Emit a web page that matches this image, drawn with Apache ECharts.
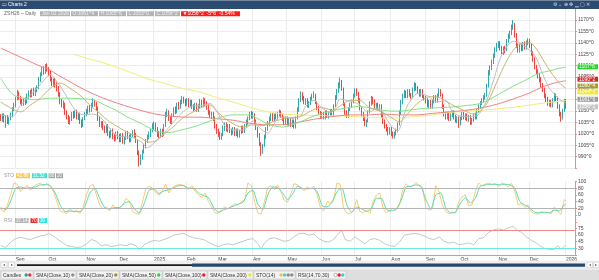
<!DOCTYPE html>
<html><head><meta charset="utf-8">
<script src="https://cdn.jsdelivr.net/npm/echarts@6/dist/echarts.min.js"></script>
<style>html,body{margin:0;padding:0;background:#fff;overflow:hidden}#c{width:599px;height:280px;}</style>
</head><body><div id="c"></div>
<script>
// ---- categories: trading days grouped by month ----
const monthLabels = ['', 'Sep','Oct','Nov','Dec','2025','Feb','Mar','Apr','May','Jun','Jul','Aug','Sep','Oct','Nov','Dec','2026'];
const monthDays   = [9, 20, 23, 20, 21, 20, 19, 21, 21, 21, 20, 22, 21, 21, 23, 19, 22, 1];
const padDays = 5;

// ---- daily candles [open, close, low, high] ----
const candles = [
[1043,1040,1037,1046],[1039,1044,1036,1047],[1045,1038,1035,1047],[1037,1042,1028,1044],[1043,1036,1033,1045],[1035,1040,1032,1042],[1041,1045,1038,1048],[1044,1052,1042,1055],[1053,1058,1050,1061],
[1057,1066,1055,1069],[1067,1074,1064,1078],[1073,1068,1065,1076],[1067,1062,1059,1070],[1063,1060,1057,1066],[1059,1064,1057,1067],[1065,1061,1058,1068],[1062,1070,1060,1073],[1069,1074,1066,1077],[1075,1071,1068,1078],[1070,1077,1068,1080],[1078,1073,1070,1081],[1072,1078,1070,1081],[1079,1080,1075,1084],[1081,1092,1079,1095],[1091,1098,1088,1101],[1099,1104,1096,1108],[1105,1102,1098,1109],[1101,1108,1099,1112],[1109,1106,1102,1113],
[1105,1100,1096,1108],[1101,1092,1089,1103],[1093,1086,1083,1095],[1085,1090,1082,1093],[1091,1084,1081,1094],[1085,1080,1076,1088],[1081,1072,1069,1083],[1073,1062,1059,1075],[1063,1058,1055,1066],[1057,1060,1053,1064],[1059,1048,1045,1061],[1049,1042,1039,1051],[1043,1036,1033,1045],[1035,1040,1032,1043],[1039,1046,1037,1049],[1047,1044,1040,1050],[1043,1048,1041,1051],[1049,1042,1039,1052],[1041,1045,1038,1048],[1046,1036,1033,1048],[1037,1032,1028,1039],[1031,1040,1029,1042],[1041,1046,1038,1049],
[1047,1050,1043,1053],[1049,1054,1046,1057],[1055,1052,1048,1058],[1051,1058,1049,1061],[1059,1062,1055,1067],[1063,1060,1056,1065],[1059,1055,1051,1062],[1054,1040,1037,1056],[1041,1032,1029,1043],[1031,1034,1028,1037],[1035,1028,1025,1037],[1029,1024,1021,1031],[1023,1030,1021,1033],[1031,1020,1017,1033],[1021,1018,1014,1024],[1017,1024,1015,1027],[1025,1016,1013,1027],[1017,1014,1010,1020],[1013,1020,1011,1023],[1021,1016,1013,1024],
[1017,1012,1009,1020],[1011,1018,1009,1021],[1019,1010,1007,1021],[1009,1014,1006,1017],[1015,1020,1012,1023],[1021,1016,1013,1024],[1017,1012,1009,1019],[1011,1018,1009,1021],[1019,1022,1016,1025],[1023,1018,1015,1026],[1019,1012,1008,1021],[1011,995,992,1013],[996,982,977,998],[981,990,979,993],[989,996,986,999],[997,1004,994,1007],[1003,1010,1001,1013],[1011,1016,1008,1019],[1017,1020,1013,1023],[1019,1024,1016,1027],[1025,1030,1022,1034],
[1029,1032,1025,1036],[1033,1026,1023,1035],[1027,1020,1016,1029],[1021,1018,1014,1024],[1017,1024,1015,1027],[1025,1020,1016,1027],[1019,1030,1017,1033],[1031,1046,1029,1049],[1045,1050,1042,1053],[1049,1040,1037,1051],[1041,1036,1033,1043],[1035,1044,1033,1047],[1045,1052,1042,1055],[1053,1050,1046,1056],[1049,1058,1047,1061],[1059,1056,1052,1062],[1055,1062,1053,1065],[1063,1066,1059,1070],[1067,1064,1060,1069],[1063,1060,1056,1066],
[1059,1064,1057,1067],[1065,1058,1055,1067],[1057,1062,1055,1065],[1063,1056,1053,1065],[1057,1054,1050,1059],[1053,1058,1051,1061],[1059,1052,1049,1061],[1051,1056,1049,1059],[1057,1062,1054,1066],[1063,1058,1055,1065],[1057,1064,1055,1068],[1065,1060,1057,1067],[1061,1056,1052,1063],[1057,1048,1045,1059],[1049,1044,1041,1051],[1043,1046,1040,1049],[1047,1040,1037,1049],[1041,1030,1027,1043],[1031,1024,1020,1033],
[1025,1020,1016,1027],[1021,1016,1012,1023],[1015,1018,1012,1021],[1019,1028,1017,1031],[1027,1032,1024,1035],[1033,1026,1023,1035],[1025,1030,1022,1033],[1031,1024,1021,1033],[1025,1022,1018,1027],[1021,1026,1019,1029],[1027,1020,1017,1029],[1019,1024,1017,1027],[1025,1018,1015,1027],[1017,1022,1015,1025],[1023,1028,1020,1031],[1029,1024,1021,1031],[1023,1030,1021,1033],[1031,1036,1028,1039],[1035,1040,1032,1043],[1041,1046,1038,1049],[1047,1044,1040,1050],
[1043,1046,1040,1049],[1045,1036,1033,1047],[1037,1028,1025,1039],[1027,1018,1015,1029],[1019,1008,1004,1021],[1007,996,991,1009],[997,1004,994,1007],[1005,1016,1003,1019],[1015,1026,1013,1029],[1027,1034,1024,1037],[1033,1040,1030,1043],[1041,1044,1037,1047],[1045,1040,1037,1048],[1039,1044,1037,1047],[1045,1042,1039,1048],[1041,1046,1039,1049],[1047,1048,1043,1052],[1049,1044,1041,1051],[1043,1040,1037,1046],[1041,1036,1032,1043],[1035,1040,1032,1043],
[1041,1034,1031,1043],[1033,1038,1030,1041],[1039,1032,1029,1041],[1031,1036,1029,1039],[1037,1030,1027,1039],[1029,1040,1027,1043],[1041,1052,1039,1055],[1051,1064,1049,1067],[1065,1072,1062,1076],[1071,1068,1064,1075],[1067,1062,1059,1070],[1061,1064,1058,1067],[1065,1058,1055,1067],[1057,1060,1054,1063],[1061,1066,1058,1069],[1067,1070,1064,1073],[1071,1072,1067,1076],[1071,1062,1059,1073],[1061,1054,1051,1063],[1055,1048,1045,1057],[1047,1044,1040,1050],
[1043,1046,1040,1049],[1047,1042,1039,1049],[1041,1048,1039,1051],[1049,1044,1041,1051],[1043,1046,1040,1049],[1047,1050,1044,1053],[1051,1046,1043,1053],[1045,1056,1043,1059],[1057,1068,1055,1071],[1067,1076,1065,1079],[1077,1084,1074,1088],[1083,1088,1080,1094],[1089,1080,1077,1091],[1079,1060,1057,1081],[1059,1048,1045,1061],[1049,1044,1041,1051],[1043,1052,1041,1055],[1053,1058,1050,1061],[1057,1062,1054,1065],[1063,1070,1060,1073],
[1071,1076,1068,1080],[1077,1074,1070,1080],[1073,1064,1061,1075],[1065,1054,1051,1067],[1053,1046,1043,1055],[1047,1040,1037,1049],[1041,1034,1030,1043],[1033,1036,1029,1039],[1037,1048,1035,1051],[1049,1060,1047,1063],[1059,1066,1057,1070],[1067,1062,1059,1069],[1063,1056,1053,1065],[1055,1058,1052,1061],[1059,1054,1051,1061],[1053,1056,1050,1059],[1057,1044,1041,1059],[1045,1036,1033,1047],[1037,1030,1027,1039],[1031,1026,1023,1033],[1027,1022,1018,1029],[1021,1026,1019,1029],
[1027,1020,1017,1029],[1021,1018,1014,1023],[1017,1020,1014,1023],[1021,1024,1018,1027],[1025,1032,1022,1035],[1033,1048,1031,1051],[1047,1062,1045,1065],[1061,1070,1059,1073],[1071,1074,1067,1078],[1075,1070,1067,1077],[1069,1076,1067,1079],[1077,1072,1069,1079],[1071,1070,1066,1074],[1069,1078,1067,1081],[1079,1084,1076,1088],[1085,1080,1077,1087],[1081,1076,1073,1083],[1077,1072,1069,1079],[1071,1076,1069,1079],[1077,1070,1067,1079],[1069,1068,1064,1072],
[1067,1064,1060,1070],[1065,1058,1055,1067],[1057,1062,1054,1065],[1063,1056,1053,1065],[1055,1062,1053,1065],[1063,1068,1060,1071],[1069,1064,1061,1071],[1063,1070,1061,1073],[1071,1076,1068,1080],[1077,1072,1069,1079],[1071,1056,1053,1073],[1057,1046,1043,1059],[1047,1042,1039,1049],[1041,1046,1039,1049],[1047,1040,1037,1049],[1039,1044,1037,1047],[1045,1048,1042,1051],[1049,1042,1039,1051],[1043,1038,1035,1045],[1037,1040,1034,1043],[1041,1034,1028,1043],
[1033,1040,1031,1043],[1041,1046,1038,1049],[1047,1042,1039,1049],[1041,1044,1038,1047],[1045,1040,1037,1047],[1039,1042,1036,1045],[1043,1036,1032,1045],[1035,1038,1032,1041],[1039,1044,1036,1047],[1045,1042,1039,1048],[1041,1050,1039,1053],[1051,1056,1048,1059],[1055,1060,1053,1063],[1061,1064,1058,1067],[1065,1068,1062,1071],[1069,1070,1065,1074],[1071,1082,1069,1086],[1083,1100,1081,1104],[1101,1106,1097,1110],[1107,1114,1104,1118],[1115,1122,1112,1126],[1123,1130,1120,1134],[1131,1136,1128,1140],
[1137,1138,1133,1142],[1139,1134,1130,1142],[1133,1128,1125,1136],[1127,1132,1124,1135],[1133,1130,1126,1136],[1131,1142,1129,1145],[1143,1148,1140,1152],[1149,1152,1145,1156],[1153,1160,1150,1164],[1161,1164,1157,1170],[1163,1150,1147,1166],[1151,1136,1133,1153],[1137,1130,1127,1139],[1129,1136,1127,1139],[1137,1132,1129,1140],[1131,1138,1129,1141],[1139,1134,1131,1142],[1133,1140,1131,1143],[1141,1142,1137,1146],
[1143,1136,1133,1145],[1137,1126,1123,1139],[1127,1118,1115,1129],[1119,1108,1105,1121],[1109,1102,1099,1111],[1103,1096,1093,1105],[1097,1092,1088,1100],[1093,1084,1081,1095],[1085,1078,1075,1087],[1079,1070,1067,1081],[1071,1066,1062,1073],[1067,1060,1057,1069],[1059,1062,1056,1065],[1063,1058,1055,1065],[1057,1064,1055,1067],[1065,1070,1062,1074],[1071,1066,1063,1073],[1067,1056,1053,1069],[1057,1046,1043,1059],[1047,1042,1036,1049],[1041,1050,1039,1053],[1051,1062,1049,1066],
[1061.5,1056.25,1053,1065.75]
];

// ---- moving averages: [dayIndex, value] ----
const sma10 = [[0,1045],[7,1043],[12,1058],[18,1071],[24,1085],[30,1098],[35,1086],[40,1069],[45,1052],[50,1045],[55,1046],[60,1043],[65,1030],[70,1018],[75,1016],[80,1015],[85,1010],[89,1002],[93,1008],[97,1016],[101,1026],[105,1036],[110,1048],[117,1057],[121,1057],[127,1060],[131,1050],[134,1038],[137,1028],[143,1025],[148,1026],[153,1037],[157,1028],[162,1021],[165,1030],[169,1042],[173,1042],[176,1040],[182,1044],[185,1056],[190,1064],[194,1056],[200,1048],[203,1054],[206,1066],[210,1064],[214,1062],[218,1058],[222,1050],[225,1050],[228,1054],[231,1052],[234,1040],[238,1028],[241,1024],[244,1040],[247,1058],[253,1073],[259,1070],[265,1062],[270,1064],[274,1050],[278,1044],[282,1043],[289,1044],[292,1052],[295,1064],[299,1090],[302,1112],[305,1128],[311,1142],[315,1140],[321,1130],[325,1120],[329,1098],[333,1080],[337,1070],[340,1064],[343,1061]];
const sma20 = [[0,1062],[6,1054],[12,1049],[18,1058],[24,1067],[30,1080],[36,1087],[42,1080],[48,1071],[54,1058],[60,1047],[66,1036],[72,1028],[78,1021],[84,1016],[90,1009],[94,1011],[97,1016],[101,1023],[105,1030],[110,1040],[116,1048],[121,1054],[127,1058],[131,1050],[135,1042],[139,1036],[143,1031],[147,1029],[153,1032],[159,1031],[165,1036],[170,1039],[174,1041],[182,1043],[188,1050],[194,1055],[198,1053],[202,1051],[206,1057],[212,1064],[218,1064],[224,1054],[230,1050],[236,1043],[242,1036],[246,1044],[250,1054],[254,1062],[260,1069],[266,1068],[271,1062],[276,1056],[281,1051],[287,1046],[291,1050],[295,1060],[299,1078],[303,1098],[307,1116],[311,1130],[315,1138],[321,1140],[325,1132],[329,1118],[333,1104],[337,1092],[340,1085],[343,1080]];
const sma50 = [[0,1093],[4,1080],[8,1071],[14,1067],[20,1065],[30,1067],[40,1067],[50,1066],[56,1065],[63,1058],[70,1051],[77,1042],[85,1034],[91,1027],[97,1022],[103,1022],[109,1025],[115,1028],[121,1032],[128,1038],[135,1043],[141,1045],[147,1045],[151,1045],[156,1040],[162,1033],[167,1030],[171,1029],[177,1032],[182,1036],[187,1041],[192,1045],[197,1048],[202,1051],[207,1053],[212,1055],[217,1056],[222,1055],[227,1053],[232,1051],[237,1050],[242,1050],[250,1052],[260,1054],[271,1055],[281,1057],[291,1060],[297,1066],[302,1072],[307,1078],[312,1084],[317,1089],[322,1095],[327,1100],[333,1103],[338,1106],[343,1108]];
const sma100 = [[0,1133],[8,1125],[16,1117],[24,1109],[29,1105],[35,1097],[40,1091],[50,1079],[60,1069],[70,1061],[80,1054],[90,1048],[97,1045],[105,1043],[113,1042],[121,1042],[131,1040],[141,1038],[151,1034],[161,1032],[171,1032],[182,1036],[192,1040],[202,1043],[212,1045],[222,1045],[232,1046],[242,1045],[252,1045],[262,1047],[272,1049],[282,1051],[291,1054],[301,1059],[311,1066],[321,1074],[329,1082],[336,1087],[343,1090]];
const sma200 = [[44,1125],[50,1121],[60,1115],[70,1108],[80,1100],[90,1092],[100,1086],[110,1080],[121,1075],[131,1068],[141,1062],[151,1055],[162,1049],[172,1046],[182,1045],[192,1044],[202,1044],[212,1043],[222,1042],[232,1041],[242,1041],[252,1043],[262,1045],[272,1048],[282,1050],[291,1051],[301,1053],[311,1055],[321,1058],[331,1061],[343,1064]];

// ---- stochastic (14) %K and %D ----
const stoK = [[0,18],[2,8],[4,30],[6,62],[8,96],[10,92],[12,70],[14,80],[16,88],[18,74],[20,86],[22,92],[24,95],[26,88],[28,94],[30,86],[32,70],[34,40],[36,12],[38,8],[40,4],[42,20],[44,8],[46,14],[48,4],[50,22],[52,60],[54,86],[56,92],[58,60],[60,30],[62,18],[64,24],[66,12],[68,30],[70,18],[72,22],[74,28],[76,50],[78,40],[80,10],[82,4],[84,2],[86,40],[88,78],[90,86],[92,80],[94,68],[96,58],[98,72],[100,92],[102,66],[104,80],[106,88],[108,92],[110,90],[112,84],[114,76],[116,88],[118,70],[120,60],[122,52],[124,66],[126,40],[128,24],[130,6],[132,4],[134,16],[136,24],[138,18],[140,26],[142,34],[144,30],[146,40],[148,44],[150,96],[152,88],[154,40],[156,6],[158,2],[160,40],[162,82],[164,88],[166,76],[168,90],[170,70],[172,44],[174,38],[176,62],[178,94],[180,90],[182,82],[184,72],[186,84],[188,78],[190,86],[192,60],[194,22],[196,12],[198,40],[200,36],[202,46],[204,96],[206,92],[208,20],[210,6],[212,4],[214,12],[216,46],[218,10],[220,6],[222,14],[224,4],[226,40],[228,60],[230,66],[232,20],[234,6],[236,12],[238,20],[240,14],[242,30],[244,76],[246,94],[248,84],[250,88],[252,98],[254,86],[256,80],[258,22],[260,14],[262,18],[264,88],[266,70],[268,30],[270,10],[272,4],[274,8],[276,6],[278,40],[280,54],[282,60],[284,28],[286,30],[288,70],[290,96],[292,86],[294,92],[296,96],[298,90],[300,94],[302,86],[304,96],[306,92],[308,84],[310,95],[312,70],[314,30],[316,34],[318,22],[320,30],[322,8],[324,4],[326,2],[328,10],[330,6],[332,8],[334,4],[336,24],[338,10],[340,2],[342,46],[343,42]];
const stoD = [[0,22],[3,16],[6,42],[9,80],[12,84],[15,80],[18,82],[21,84],[24,90],[27,91],[30,88],[33,66],[36,30],[39,10],[42,12],[45,10],[48,10],[51,26],[54,66],[57,80],[60,50],[63,22],[66,18],[69,22],[72,22],[75,36],[78,40],[81,18],[84,6],[87,34],[90,74],[93,78],[96,64],[99,72],[102,76],[105,82],[108,88],[111,88],[114,80],[117,80],[120,66],[123,58],[126,52],[129,24],[132,8],[135,14],[138,20],[141,26],[144,32],[147,38],[150,66],[153,74],[156,32],[159,16],[162,60],[165,84],[168,82],[171,66],[174,46],[177,62],[180,86],[183,80],[186,78],[189,80],[192,70],[195,28],[198,24],[201,38],[204,70],[207,80],[210,30],[213,8],[216,24],[219,18],[222,10],[225,20],[228,50],[231,50],[234,16],[237,12],[240,18],[243,44],[246,84],[249,86],[252,90],[255,86],[258,46],[261,18],[264,60],[267,66],[270,22],[273,6],[276,8],[279,36],[282,52],[285,36],[288,50],[291,86],[294,90],[297,92],[300,92],[303,90],[306,92],[309,90],[312,80],[315,40],[318,30],[321,22],[324,8],[327,6],[330,8],[333,6],[336,14],[339,12],[342,30],[343,32]];

// ---- RSI (14) ----
const rsi = [[0,36],[3,32],[6,44],[9,52],[12,55],[15,52],[18,50],[21,54],[24,58],[27,60],[29,64],[31,60],[34,52],[37,44],[40,36],[43,34],[46,32],[49,33],[52,40],[55,50],[58,46],[61,36],[64,38],[67,34],[70,36],[73,38],[76,36],[79,40],[82,36],[84,26],[87,38],[90,44],[93,48],[96,46],[99,50],[102,54],[105,60],[108,62],[111,64],[114,58],[117,54],[120,52],[123,50],[126,44],[129,38],[132,34],[135,38],[138,40],[141,38],[144,42],[147,46],[150,50],[153,52],[156,40],[158,28],[160,42],[163,52],[166,54],[169,50],[172,46],[175,48],[178,56],[181,64],[184,64],[187,60],[190,62],[193,52],[196,46],[199,44],[202,50],[205,64],[207,70],[209,50],[212,46],[215,56],[218,48],[221,40],[224,50],[227,52],[230,48],[233,40],[236,36],[239,34],[242,44],[245,60],[248,62],[251,64],[254,62],[257,58],[260,52],[263,50],[266,56],[269,46],[272,42],[275,44],[278,38],[281,40],[284,42],[287,38],[290,52],[293,54],[296,66],[299,72],[302,74],[305,72],[308,76],[311,80],[313,72],[316,66],[319,56],[322,48],[325,42],[327,36],[330,30],[333,27],[336,28],[338,36],[340,28],[342,34],[343,37]];

const priceTicks = [990,1005,1020,1035,1050,1065,1080,1095,1110,1125,1140,1155,1170];
const stoLevels = [80, 20];
const rsiLevels = [70, 30];
const rsiTicks = [30, 45, 60, 75];

// ---- build categories ----
const cats = [], labelAt = {}, monthStart = new Set();
monthLabels.forEach((m, k) => {
  for (let d = 0; d < monthDays[k]; d++) {
    const idx = cats.length;
    if (d === 0 && m) { labelAt[idx] = m; monthStart.add(idx); }
    cats.push(String(idx));
  }
});
for (let p = 0; p < padDays; p++) cats.push(String(cats.length));

const FONT = 'Liberation Sans';
const UP = '#1f9ea3', DOWN = '#f0302c', AXIS = '#f08a8a', GRID = '#ececec';

const chart = echarts.init(document.getElementById('c'), null, {renderer: 'canvas'});

function xAx(gi, showLabel) {
  return {
    type: 'category', gridIndex: gi, data: cats, boundaryGap: true,
    axisLine: {show: showLabel, lineStyle: {color: AXIS, width: 1}},
    axisTick: {show: false},
    axisLabel: {show: showLabel, interval: (i) => monthStart.has(i), formatter: (v, i) => labelAt[i] || '',
      align: 'left', fontSize: 5, fontFamily: FONT, color: '#444', margin: 2},
    splitLine: {show: true, interval: (i) => monthStart.has(i), lineStyle: {color: GRID, width: 1}}
  };
}
function yAx(gi, min, max, interval, fmt, split, pad) {
  return {
    type: 'value', gridIndex: gi, position: 'right', min, max, interval, scale: false,
    axisLine: {show: true, lineStyle: {color: AXIS, width: 1}},
    axisTick: {show: true, length: 2, lineStyle: {color: AXIS}},
    axisLabel: {show: true, formatter: fmt, fontSize: 5, fontFamily: FONT, color: '#444', margin: 3, padding: pad || 0},
    splitLine: {show: split, lineStyle: {color: GRID, width: 1}}
  };
}
function sline(name, data, color, xi, smooth, extra) {
  return Object.assign({name, type: 'line', xAxisIndex: xi, yAxisIndex: xi, data, showSymbol: false, symbol: 'none',
    smooth: smooth, lineStyle: {color, width: 1}, itemStyle: {color}, silent: true}, extra || {});
}
function mline(levels, colors) {
  return {silent: true, symbol: 'none', label: {show: false},
    data: levels.map((v, k) => ({yAxis: v, lineStyle: {color: colors[k], width: 1, type: 'solid'}}))};
}

const option = {
  animation: false,
  backgroundColor: '#ffffff',
  grid: [
    {left: 0, right: 24, top: 8.6, height: 159.45},
    {left: 0, right: 24, top: 181.6, height: 33.3},
    {left: 0, right: 24, top: 215.3, height: 39.6}
  ],
  xAxis: [xAx(0, false), xAx(1, false), xAx(2, true)],
  yAxis: [
    yAx(0, 975, 1185, 15, (v) => priceTicks.includes(v) ? v + '^0' : '', true),
    yAx(1, 0, 100, 20, (v) => String(v), false, [0, 0, 3, 0]),
    yAx(2, 15, 105, 15, (v) => rsiTicks.includes(v) ? String(v) : '', false, [0, 0, 4, 0])
  ],
  series: [
    {name: 'Candles', type: 'candlestick', xAxisIndex: 0, yAxisIndex: 0, data: candles, barWidth: 1,
      itemStyle: {color: UP, color0: DOWN, borderColor: UP, borderColor0: DOWN, borderWidth: 0.9}, silent: true},
    sline('SMA200', sma200, '#f2ec78', 0, 0.3),
    sline('SMA100', sma100, '#ee8282', 0, 0.3),
    sline('SMA50', sma50, '#84e284', 0, 0.3),
    sline('SMA20', sma20, '#c8b46c', 0, 0.3),
    sline('SMA10', sma10, '#bdbdbd', 0, 0.3),
    sline('STO K', stoK, '#f8cd6a', 1, false, {markLine: mline(stoLevels, ['#b4b4b4', '#b4b4b4'])}),
    sline('STO D', stoD, '#56d9b6', 1, 0.2),
    sline('RSI', rsi, '#c6c6c6', 2, false, {markLine: mline(rsiLevels, ['#f08a8a', '#6fe6e6'])})
  ]
};
chart.setOption(option);

// ---- decorations / labels ----
const G = [];
function T(x, y, s, fill, size, align) {
  G.push({type: 'text', x, y, z: 101, silent: true,
    style: {text: s, fill, fontSize: size || 5, fontFamily: FONT, align: align || 'left', verticalAlign: 'middle'}});
}
function R(x, y, w, h, fill, stroke) {
  G.push({type: 'rect', z: 100, silent: true, shape: {x, y, width: w, height: h},
    style: {fill, stroke: stroke || null, lineWidth: stroke ? 0.6 : 0}});
}
function C(x, y, r, fill, stroke) {
  G.push({type: 'circle', z: 101, silent: true, shape: {cx: x, cy: y, r}, style: {fill, stroke: stroke || null, lineWidth: stroke ? 0.5 : 0}});
}
// window title bar
R(0, 0, 599, 9, '#2c4b70');
R(0, 0, 599, 0.8, '#8a9bb0');
T(2, 4.8, '▭', '#dfe6ee', 4.5);
T(8, 4.8, 'Charts 2', '#ffffff', 5);
T(553, 4.8, '⚙ ⌄ ⊕ ✥ ▁ ▢ ✕', '#d5dde8', 5);
// header line
T(4, 13.6, 'ZSH26 ~ Daily', '#6a6a6a', 5);
const hdr = [[40, 30, 'Jan 02 2026'], [71, 27, 'O:1061^4'], [99, 27, 'H:1065^6'], [127, 27, 'L:1053^0'], [155, 25, 'C:1056^2']];
hdr.forEach(([x, w, s]) => { R(x, 11.2, w, 5, '#b3b3b3'); T(x + 1.5, 13.7, s, '#f2f2f2', 5); });
R(181, 11.2, 59, 5, '#ff1c1c'); T(182.5, 13.7, '▼1056^2  -5^6  -0.54%', '#ffffff', 5);
// right-side value boxes
const vb = [[64.3, '#27d827', '1107^6'], [76.7, '#d92424', '1090^2'], [83.5, '#a59d2f', '1080^4'], [89.4, '#efe92a', '1064^0'], [96.8, '#9b9b9b', '1061^6'], [104.3, '#c6c6c6', '1056^2']];
vb.forEach(([y, f, s]) => { R(577.5, y, 20.5, 5, f); T(579, y + 2.6, s, '#ffffff', 5); });
// STO header
T(4, 175.6, 'STO', '#9a9a9a', 5);
R(16, 173.2, 14, 5, '#f8c84e'); T(17, 175.7, '42.86', '#ffffff', 4.6);
R(32, 173.2, 15, 5, '#3fe3d3'); T(33, 175.7, '31.52', '#ffffff', 4.6);
R(48.5, 173.2, 6.5, 5, '#a4a4a4'); T(49.3, 175.7, '80', '#ffffff', 4.6);
R(56, 173.2, 7, 5, '#a4a4a4'); T(57, 175.7, '20', '#ffffff', 4.6);
// RSI header
T(4, 220.3, 'RSI', '#9a9a9a', 5);
R(15, 218, 13.5, 5, '#b4b4b4'); T(16, 220.5, '37.14', '#ffffff', 4.6);
R(30.5, 218, 7, 5, '#f02a2a'); T(31.5, 220.5, '70', '#ffffff', 4.6);
R(39, 218, 8, 5, '#33e3e3'); T(40, 220.5, '30', '#ffffff', 4.6);
// scrollbar
R(0, 260.5, 599, 9, '#efefef');
R(1, 262.2, 6, 5.5, '#ffffff', '#c8c8c8'); T(4, 265, '◂', '#555', 4, 'center');
R(8.5, 262.2, 6, 5.5, '#ffffff', '#c8c8c8'); T(11.5, 265, '▸', '#555', 4, 'center');
R(17, 264.3, 175, 1.6, '#1a1a1a');
R(192, 263.4, 393, 3.4, '#27486c');
R(587, 262.2, 5.5, 5.5, '#ffffff', '#c8c8c8'); T(589.7, 265, '◂', '#555', 4, 'center');
R(593.5, 262.2, 5.5, 5.5, '#ffffff', '#c8c8c8'); T(596.2, 265, '▸', '#555', 4, 'center');
// legend row
R(0, 269.5, 599, 10.5, '#dedede');
const leg = [
  [1, 32, 'Candles', [UP, DOWN]],
  [34, 42, 'SMA(Close,10)', ['#8f8f8f']],
  [77, 42, 'SMA(Close,20)', ['#9f9420']],
  [120, 42, 'SMA(Close,50)', ['#25d625']],
  [163, 44, 'SMA(Close,100)', ['#e01c1c']],
  [208, 45, 'SMA(Close,200)', ['#eee81c']],
  [254, 41, 'STO(14)', ['#f4c43a', '#2fd8d0', '#8c8c8c', '#8c8c8c']],
  [296, 50, 'RSI(14,70,30)', ['#ffffff', '#e81c1c', '#22d8d8']]
];
leg.forEach(([x, w, s, cols]) => {
  R(x, 271, w, 8, '#f3f3f3', '#c2c2c2');
  T(x + 2, 275.2, s, '#333333', 5);
  const n = cols.length;
  cols.forEach((c, k) => C(x + w - 3.2 - (n - 1 - k) * 3.6, 275, 1.7, c, c === '#ffffff' ? '#777' : null));
});
chart.setOption({graphic: G});
</script>
</body></html>
